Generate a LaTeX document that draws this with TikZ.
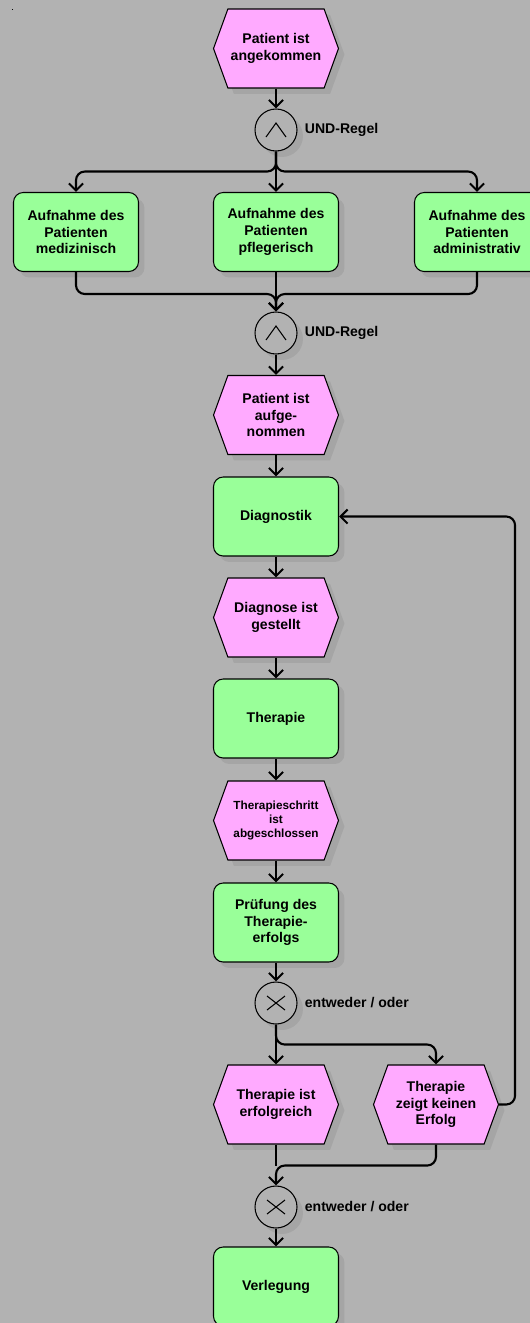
\documentclass[tikz,border=0pt]{standalone}
\usepackage{fontspec}
\setmainfont{Liberation Sans}
\usetikzlibrary{shapes.symbols,shadows,arrows.meta,positioning}

\definecolor{bggray}{RGB}{178,178,178}
\definecolor{eventpink}{RGB}{255,170,255}
\definecolor{funcgreen}{RGB}{153,255,153}

\tikzset{
  softshadow/.style={drop shadow={shadow xshift=3.4pt,shadow yshift=-3.4pt,opacity=0.07,fill=black}},
  event/.style={signal, signal to=west and east, signal pointer angle=140, draw, line width=0.6pt,
    fill=eventpink, minimum width=2.5cm, minimum height=1.58cm, inner sep=1pt, align=center,
    font=\fontsize{8}{9.5}\selectfont\bfseries, softshadow},
  funct/.style={rectangle, rounded corners=5.5pt, draw, line width=0.6pt, fill=funcgreen,
    minimum width=2.5cm, minimum height=1.58cm, inner sep=1pt, align=center,
    font=\fontsize{8}{9.5}\selectfont\bfseries, softshadow},
  gate/.style={circle, draw, line width=0.6pt, fill=bggray, minimum size=0.84cm, inner sep=0, softshadow},
  andgate/.style={gate, path picture={\draw[line width=0.6pt, shift={(path picture bounding box.center)}]
    (-0.2cm,-0.14cm) -- (0cm,0.14cm) -- (0.2cm,-0.14cm);}},
  xorgate/.style={gate, path picture={\draw[line width=0.6pt, shift={(path picture bounding box.center)}]
    (-0.18cm,-0.14cm) -- (0.18cm,0.14cm) (-0.18cm,0.14cm) -- (0.18cm,-0.14cm);}},
  gatelabel/.style={inner sep=0, font=\fontsize{8}{9.5}\selectfont\bfseries},
  flow/.style={line width=1.2pt, rounded corners=5pt, -{Straight Barb[length=4pt,width=8pt]}},
}

\begin{document}
\begin{tikzpicture}[x=0.02cm, y=-0.02cm]
  \fill[bggray] (0,0) rectangle (530,1323);
  \useasboundingbox (0,0) rectangle (530,1323);
  \fill (12,9) rectangle (13,10);

  % Aufnahme
  \node[event] (angekommen) at (276,48.5) {Patient ist\\angekommen};
  \node[andgate] (und1) at (276,130) {};
  \node[gatelabel, right=4pt of und1] (und1txt) {UND-Regel};
  \node[funct] (medizin) at (76,232) {Aufnahme des\\Patienten\\medizinisch};
  \node[funct] (pflege) at (276,232) {Aufnahme des\\Patienten\\pflegerisch};
  \node[funct] (admin) at (477,232) {Aufnahme des\\Patienten\\administrativ};
  \node[andgate] (und2) at (276,333) {};
  \node[gatelabel, right=4pt of und2] (und2txt) {UND-Regel};
  \node[event] (aufgenommen) at (276,415) {Patient ist\\aufge-\\nommen};

  % Behandlung
  \node[funct] (diagnostik) at (276,516.5) {Diagnostik};
  \node[event] (gestellt) at (276,617.5) {Diagnose ist\\gestellt};
  \node[funct] (therapie) at (276,718.5) {Therapie};
  \node[event, font=\fontsize{6.7}{7.8}\selectfont\bfseries] (abgeschlossen) at (276,820.5)
    {Therapieschritt\\ist\\abgeschlossen};
  \node[funct] (pruefung) at (276,922.5) {Prüfung des\\Therapie-\\erfolgs};
  \node[xorgate] (xor1) at (276,1003) {};
  \node[gatelabel, right=4pt of xor1] (xor1txt) {entweder / oder};
  \node[event] (erfolgreich) at (276,1104.5) {Therapie ist\\erfolgreich};
  \node[event] (keinerfolg) at (436,1104.5) {Therapie\\zeigt keinen\\Erfolg};
  \node[xorgate] (xor2) at (276,1207) {};
  \node[gatelabel, right=4pt of xor2] (xor2txt) {entweder / oder};
  \node[funct] (verlegung) at (276,1286.5) {Verlegung};

  % Kontrollfluss
  \draw[flow] (angekommen.south) -- (und1.north);
  \draw[flow] (und1.south) -- ++(0,20) -| (medizin.north);
  \draw[flow] (und1.south) -- (pflege.north);
  \draw[flow] (und1.south) -- ++(0,20) -| (admin.north);
  \draw[flow] (medizin.south) -- ++(0,22) -| (und2.north);
  \draw[flow] (pflege.south) -- (und2.north);
  \draw[flow] (admin.south) -- ++(0,22) -| (und2.north);
  \draw[flow] (und2.south) -- (aufgenommen.north);
  \draw[flow] (aufgenommen.south) -- (diagnostik.north);
  \draw[flow] (diagnostik.south) -- (gestellt.north);
  \draw[flow] (gestellt.south) -- (therapie.north);
  \draw[flow] (therapie.south) -- (abgeschlossen.north);
  \draw[flow] (abgeschlossen.south) -- (pruefung.north);
  \draw[flow] (pruefung.south) -- (xor1.north);
  \draw[flow] (xor1.south) -- (erfolgreich.north);
  \draw[flow] (xor1.south) -- ++(0,20) -| (keinerfolg.north);
  \draw[flow] (keinerfolg.east) -- ++(16,0) |- (diagnostik.east);
  \draw[line width=0.6pt] (erfolgreich.south) -- ++(0,21);
  \draw[flow] (keinerfolg.south) -- ++(0,21) -| (xor2.north);
  \draw[flow] (xor2.south) -- (verlegung.north);
\end{tikzpicture}
\end{document}
